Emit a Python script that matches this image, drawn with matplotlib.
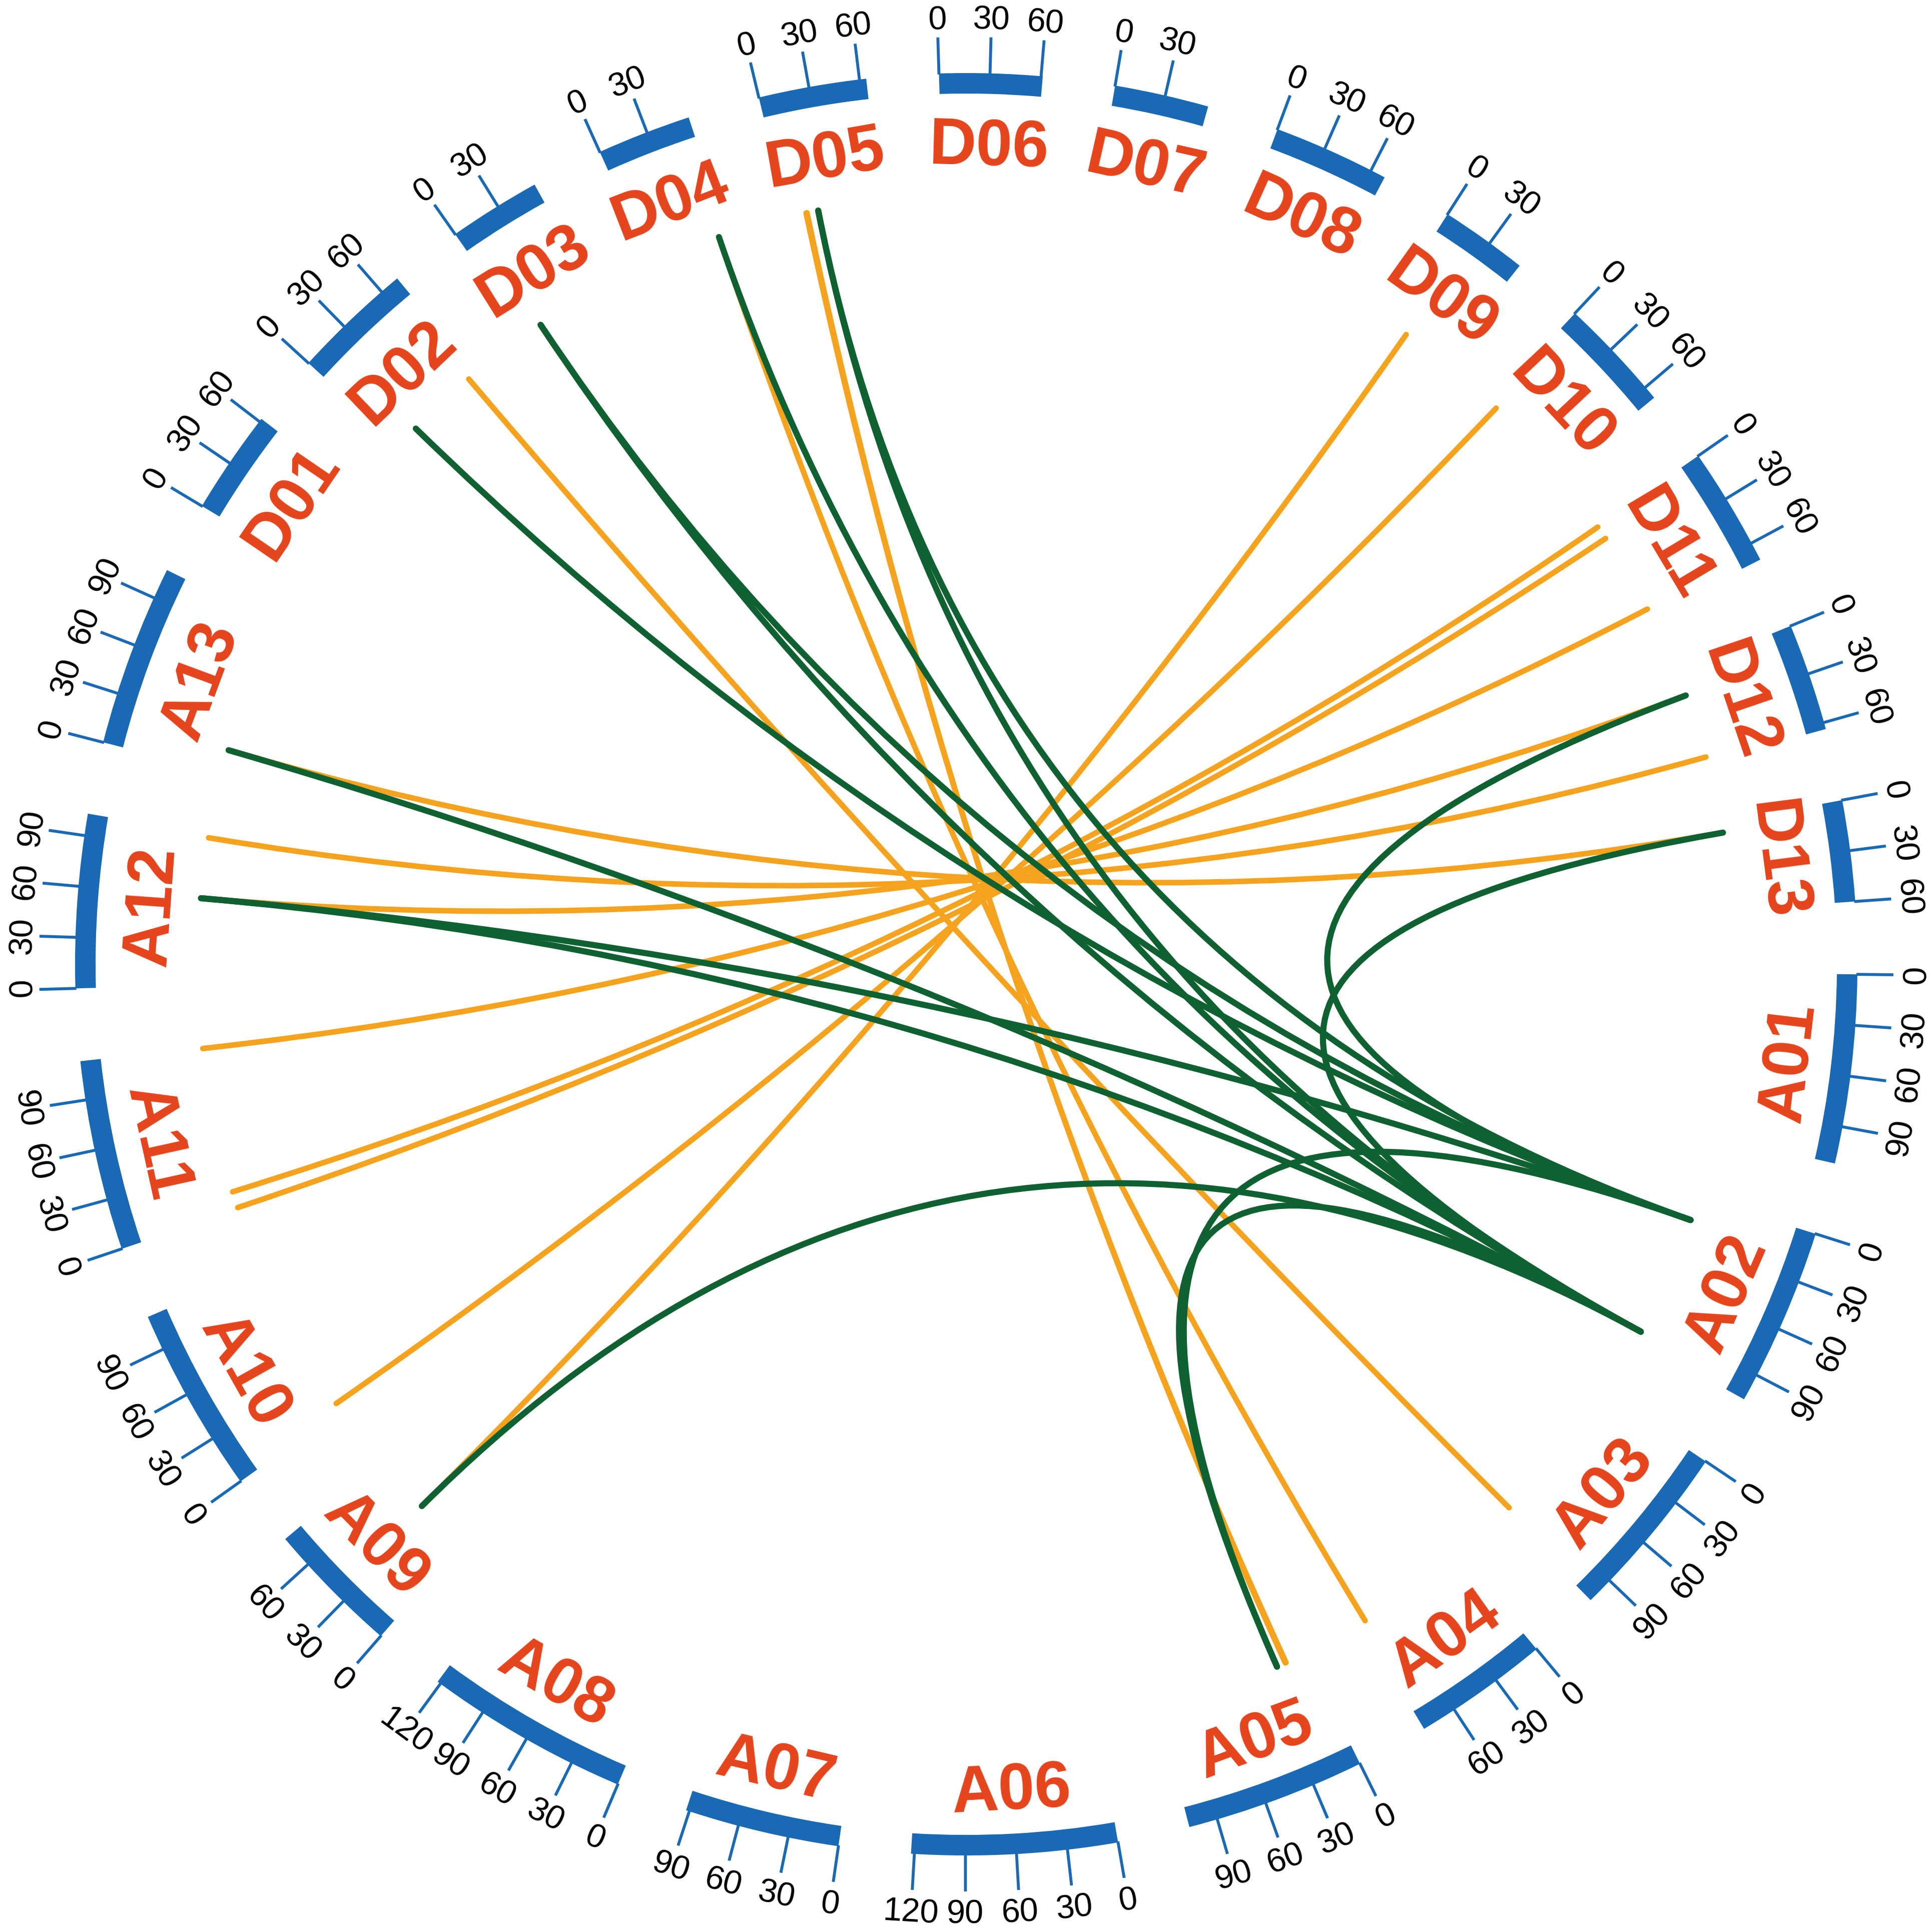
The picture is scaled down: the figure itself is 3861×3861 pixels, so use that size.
import numpy as np
import matplotlib
matplotlib.use('Agg')
from matplotlib import pyplot as plt
from matplotlib.patches import Wedge, PathPatch
from matplotlib.path import Path

plt.rcParams['font.family'] = ['Liberation Sans', 'DejaVu Sans']

# Chromosomes in clockwise order, lengths in Mb
chrom_names = ['A01', 'A02', 'A03', 'A04', 'A05', 'A06', 'A07', 'A08', 'A09',
               'A10', 'A11', 'A12', 'A13',
               'D01', 'D02', 'D03', 'D04', 'D05', 'D06', 'D07', 'D08', 'D09',
               'D10', 'D11', 'D12', 'D13']
chrom_lengths = [112, 106, 106, 81, 107, 122, 92, 122, 80, 111, 113, 103, 108,
                 62, 72, 55, 56, 64, 61, 56, 69, 52, 68, 71, 64, 60]
tick_step = 30

# Orange links (A chromosome -> D chromosome), positions in Mb
orange_a_chr = ['A03', 'A04', 'A05', 'A05', 'A09', 'A10', 'A11', 'A11', 'A11',
                'A12', 'A12', 'A13']
orange_a_pos = [101.5, 77.6, 14.8, 15.3, 37.1, 5.4, 12.7, 1.4, 112.5,
                59.2, 100.7, 16.1]
orange_d_chr = ['D02', 'D04', 'D05', 'D05', 'D09', 'D10', 'D11', 'D11', 'D11',
                'D12', 'D12', 'D13']
orange_d_pos = [65.8, 50.2, 13.0, 13.6, 20.5, 4.9, 0.8, 10.2, 66.1,
                16.7, 60.8, 6.8]

# Green links, all ending on A02
green_chr = ['D02', 'D03', 'D03', 'D04', 'D05', 'D05', 'D12', 'D13', 'A13',
             'A12', 'A12', 'A09', 'A05', 'A05']
green_pos = [16.4, 12.3, 12.3, 50.2, 21.4, 21.4, 16.7, 6.8, 16.1,
             59.2, 59.2, 37.1, 21.5, 21.5]
green_a02_pos = [16.8, 16.8, 100.1, 100.1, 16.8, 100.1, 16.8, 100.1, 100.1,
                 16.8, 100.1, 100.1, 16.8, 100.1]

# colours
bar_color = '#1A69B5'
name_color = '#E5441C'
orange_color = '#F5A31E'
green_color = '#0F6131'

# radii (pixels of the final picture)
r_in, r_out = 1740, 1781
r_tick = 1853
r_tick_label = 1893
r_name = 1644
r_link = 1535

tick_fs = 48
name_fs = 94
cap = 0.716  # cap height / font size

# layout of the ideogram
start_angle = 90.65
gap = 4.69
deg_per_mb = (360 - gap * len(chrom_names)) / sum(chrom_lengths)
chrom_start = {}
a = start_angle
for name, length in zip(chrom_names, chrom_lengths):
    chrom_start[name] = a
    a += length * deg_per_mb + gap


def angle(name, pos):
    return chrom_start[name] + pos * deg_per_mb


def polar(theta, r):
    t = np.radians(theta)
    return r * np.sin(t), r * np.cos(t)


def text_rotation(theta):
    t = theta % 360
    if 90 <= t < 270:
        return 180 - t
    return -t


def circ_text(theta, r, s, fs, **kw):
    # centre the glyphs (cap height) on radius r
    rot = text_rotation(theta)
    x, y = polar(theta, r)
    half = cap * fs * 100 / 72 / 2
    rr = np.radians(rot)
    x -= -np.sin(rr) * half
    y -= np.cos(rr) * half
    ax.text(x, y, s, fontsize=fs, ha='center', va='baseline',
            rotation=rot, rotation_mode='anchor', **kw)


fig = plt.figure(figsize=(38.62, 38.61), dpi=100)
ax = fig.add_axes([0, 0, 1, 1])
ax.set_xlim(-1931, 1931)
ax.set_ylim(-1934, 1927)
ax.axis('off')

# chromosome bars, ticks and names
for name, length in zip(chrom_names, chrom_lengths):
    t0 = angle(name, 0)
    t1 = angle(name, length)
    ax.add_patch(Wedge((0, 0), r_out, 90 - t1, 90 - t0, width=r_out - r_in,
                       facecolor=bar_color, edgecolor='none'))
    for mb in range(0, length + 1, tick_step):
        t = angle(name, mb)
        x0, y0 = polar(t, r_out - 2)
        x1, y1 = polar(t, r_tick)
        ax.plot([x0, x1], [y0, y1], color=bar_color, lw=4.2,
                solid_capstyle='butt')
        circ_text(t, r_tick_label, str(mb), tick_fs, color='black')
    circ_text(angle(name, length / 2), r_name, name, name_fs,
              fontweight='bold', color=name_color)


def draw_link(c1, p1, c2, p2, color, lw):
    xa, ya = polar(angle(c1, p1), r_link)
    xb, yb = polar(angle(c2, p2), r_link)
    path = Path([(xa, ya), (0, 0), (xb, yb)],
                [Path.MOVETO, Path.CURVE3, Path.CURVE3])
    ax.add_patch(PathPatch(path, fill=False, edgecolor=color, lw=lw,
                           capstyle='round'))


for c1, p1, c2, p2 in zip(orange_a_chr, orange_a_pos, orange_d_chr, orange_d_pos):
    draw_link(c1, p1, c2, p2, orange_color, 8.0)

for c1, p1, p2 in zip(green_chr, green_pos, green_a02_pos):
    draw_link(c1, p1, 'A02', p2, green_color, 8.8)

fig.savefig('out.png', dpi=100)
